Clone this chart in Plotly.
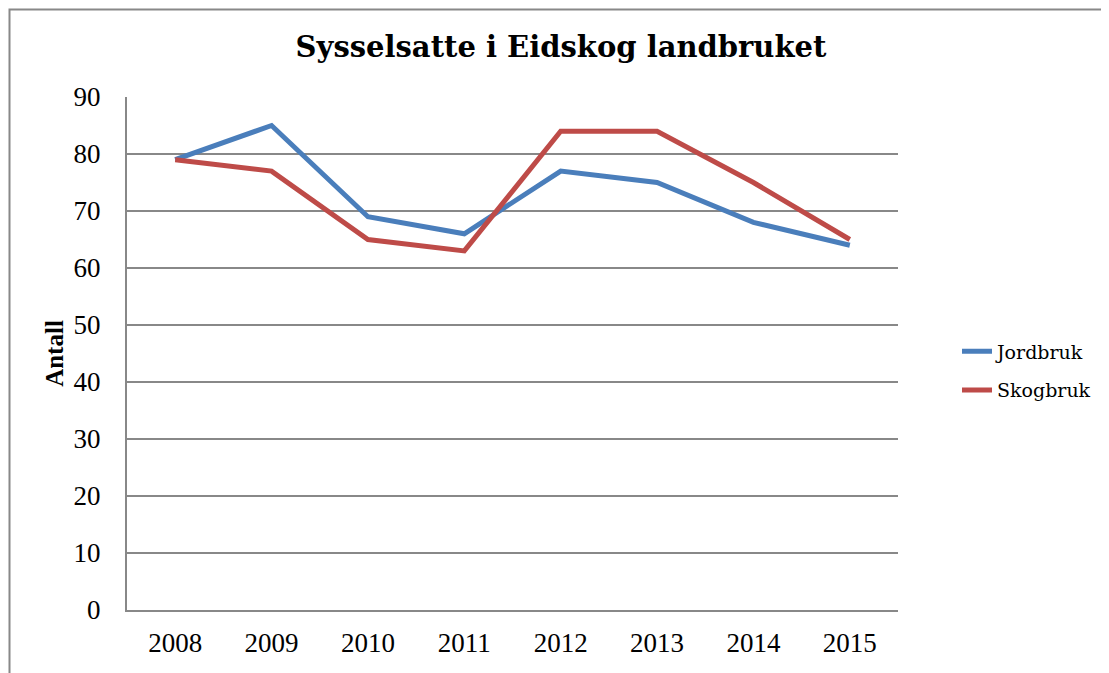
import plotly.graph_objects as go

years = ["2008", "2009", "2010", "2011", "2012", "2013", "2014", "2015"]
jordbruk = [79, 85, 69, 66, 77, 75, 68, 64]
skogbruk = [79, 77, 65, 63, 84, 84, 75, 65]
y_ticks = [0, 10, 20, 30, 40, 50, 60, 70, 80, 90]

OFF = 8  # page body margin
W, H = 1109 - OFF, 673 - OFF
px0, px1, py0, py1 = 127, 898, 97, 610  # target plot area in screen px
L, T = px0 - OFF, py0 - OFF
R, B = (W + OFF) - px1, (H + OFF) - py1
pw, ph = px1 - px0, py1 - py0

fig = go.Figure()
fig.add_trace(go.Scatter(x=years, y=jordbruk, mode="lines", name="Jordbruk", legendgroup="a",
                         line=dict(color="#4A7EBB", width=5)))
fig.add_trace(go.Scatter(x=years, y=skogbruk, mode="lines", name="Skogbruk", legendgroup="b",
                         line=dict(color="#BE4B48", width=5)))

serif = "Liberation Serif, serif"
fig.update_layout(
    width=W, height=H,
    margin=dict(l=L, r=R, t=T, b=B, autoexpand=False),
    paper_bgcolor="white", plot_bgcolor="white",
    title=dict(text="<b>Sysselsatte i Eidskog landbruket</b>",
               font=dict(family="DejaVu Serif, serif", size=29, color="black"),
               x=(561 - OFF) / W, xanchor="center", y=1 - (47 - OFF) / H, yanchor="middle"),
    showlegend=True,
    legend=dict(x=(957 - px0) / pw, xanchor="left", y=(py1 - 371) / ph, yanchor="middle",
                font=dict(family="DejaVu Serif, serif", size=19, color="black"),
                bgcolor="rgba(0,0,0,0)", tracegroupgap=11, itemwidth=30),
    xaxis=dict(type="category", range=[-0.5, 7.5], showgrid=False,
               showline=True, linecolor="#888888", linewidth=2,
               ticks="", ticklabelstandoff=8,
               tickfont=dict(family=serif, size=27, color="black"), fixedrange=True),
    yaxis=dict(range=[0, 90], tickvals=y_ticks, showgrid=True, gridcolor="#888888", gridwidth=1.5,
               showline=True, linecolor="#888888", linewidth=2, zeroline=False,
               ticks="", ticklabelstandoff=19,
               tickfont=dict(family=serif, size=27, color="black"),
               title=dict(text="<b>Antall</b>", font=dict(family=serif, size=25, color="black"),
                          standoff=3), fixedrange=True),
)

# outer chart border (only top and left visible in reference)
fig.add_shape(type="rect", xref="paper", yref="paper",
              x0=(9.5 - px0) / pw, x1=(1250 - px0) / pw,
              y0=(py1 - 720) / ph, y1=(py1 - 9.5) / ph,
              line=dict(color="#888888", width=2), fillcolor="rgba(0,0,0,0)", layer="below")

fig.write_html("out.html")
